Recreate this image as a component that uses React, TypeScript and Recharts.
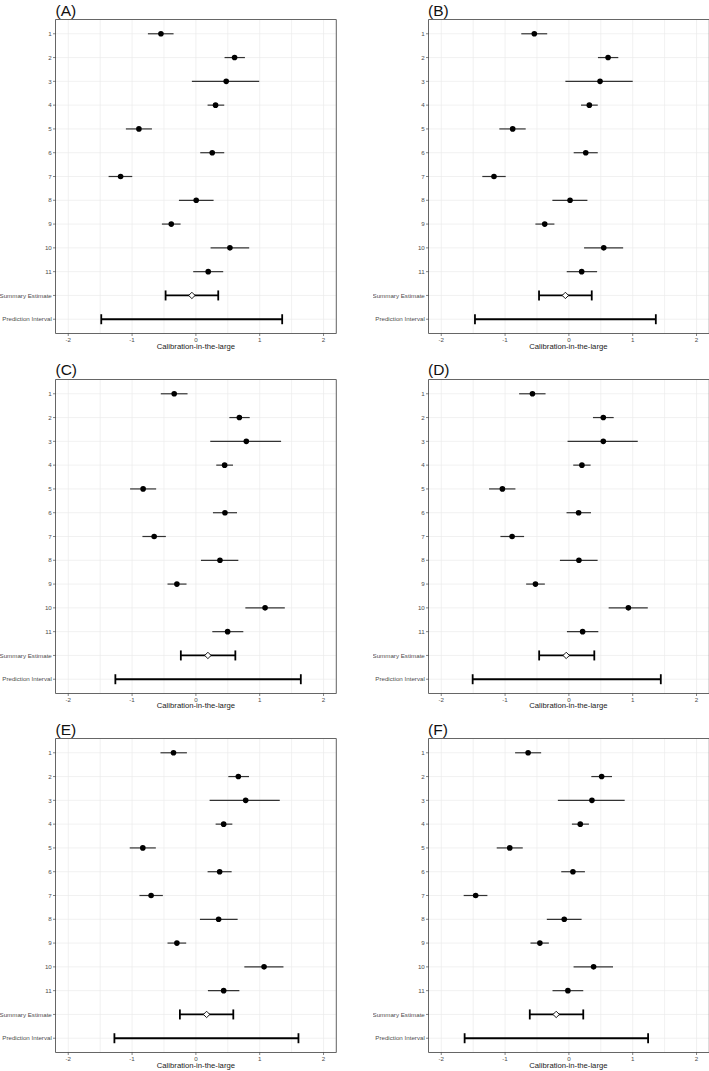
import React from 'react';
import {
  ScatterChart, Scatter, XAxis, YAxis, CartesianGrid, ErrorBar, ReferenceArea,
} from 'recharts';

// ---------- data ----------
const rowLabels = ['1', '2', '3', '4', '5', '6', '7', '8', '9', '10', '11', 'Summary Estimate', 'Prediction Interval'];
const rowIndex = [1, 2, 3, 4, 5, 6, 7, 8, 9, 10, 11, 12, 13];
const xTicks = [-2, -1.5, -1, -0.5, 0, 0.5, 1, 1.5, 2];
const xDomain = [-2.2, 2.2];
const yDomain = [0.4, 13.6];

// Panel A
const estA = [-0.548, 0.606, 0.475, 0.308, -0.893, 0.256, -1.18, 0.005, -0.386, 0.533, 0.193];
const loA = [-0.752, 0.449, -0.063, 0.183, -1.097, 0.068, -1.368, -0.266, -0.533, 0.23, -0.042];
const hiA = [-0.35, 0.768, 0.992, 0.444, -0.689, 0.444, -0.997, 0.277, -0.24, 0.835, 0.428];
const sumA = [-0.063, -0.475, 0.35];
const piA = [-1.483, 1.352];

// Panel B
const estB = [-0.542, 0.614, 0.488, 0.32, -0.881, 0.264, -1.174, 0.018, -0.379, 0.546, 0.2];
const loB = [-0.746, 0.455, -0.055, 0.19, -1.09, 0.075, -1.357, -0.259, -0.525, 0.238, -0.034];
const hiB = [-0.34, 0.774, 1.0, 0.452, -0.677, 0.452, -0.99, 0.29, -0.227, 0.85, 0.442];
const sumB = [-0.055, -0.468, 0.358];
const piB = [-1.472, 1.362];

// Panel C
const estC = [-0.34, 0.681, 0.79, 0.45, -0.827, 0.455, -0.654, 0.377, -0.298, 1.084, 0.497];
const loC = [-0.55, 0.524, 0.225, 0.319, -1.031, 0.267, -0.838, 0.079, -0.445, 0.775, 0.257];
const hiC = [-0.131, 0.843, 1.335, 0.581, -0.623, 0.644, -0.471, 0.665, -0.147, 1.393, 0.743];
const sumC = [0.188, -0.236, 0.618];
const piC = [-1.262, 1.644];

// Panel D
const estD = [-0.571, 0.539, 0.539, 0.204, -1.042, 0.152, -0.89, 0.157, -0.524, 0.932, 0.215];
const loD = [-0.78, 0.377, -0.021, 0.068, -1.251, -0.037, -1.073, -0.141, -0.67, 0.623, -0.031];
const hiD = [-0.366, 0.702, 1.079, 0.34, -0.838, 0.346, -0.702, 0.45, -0.377, 1.236, 0.461];
const sumD = [-0.042, -0.466, 0.398];
const piD = [-1.508, 1.44];

// Panel E
const estE = [-0.351, 0.665, 0.78, 0.435, -0.832, 0.372, -0.702, 0.356, -0.298, 1.068, 0.435];
const loE = [-0.555, 0.508, 0.215, 0.309, -1.037, 0.183, -0.885, 0.063, -0.445, 0.759, 0.188];
const hiE = [-0.141, 0.832, 1.314, 0.571, -0.628, 0.56, -0.518, 0.654, -0.152, 1.372, 0.681];
const sumE = [0.168, -0.251, 0.586];
const piE = [-1.277, 1.607];

// Panel F
const estF = [-0.639, 0.513, 0.361, 0.178, -0.927, 0.063, -1.461, -0.073, -0.455, 0.387, -0.016];
const loF = [-0.843, 0.351, -0.173, 0.047, -1.131, -0.12, -1.649, -0.346, -0.602, 0.073, -0.257];
const hiF = [-0.435, 0.675, 0.874, 0.314, -0.723, 0.251, -1.277, 0.199, -0.314, 0.691, 0.225];
const sumF = [-0.199, -0.613, 0.225];
const piF = [-1.634, 1.241];

const panels = [
  { title: '(A)', est: estA, lo: loA, hi: hiA, sum: sumA, pi: piA },
  { title: '(B)', est: estB, lo: loB, hi: hiB, sum: sumB, pi: piB },
  { title: '(C)', est: estC, lo: loC, hi: hiC, sum: sumC, pi: piC },
  { title: '(D)', est: estD, lo: loD, hi: hiD, sum: sumD, pi: piD },
  { title: '(E)', est: estE, lo: loE, hi: hiE, sum: sumE, pi: piE },
  { title: '(F)', est: estF, lo: loF, hi: hiF, sum: sumF, pi: piF },
];

// ---------- layout ----------
const FONT = '"Liberation Sans", Arial, Helvetica, sans-serif';
const CHART_W = 337;
const CHART_H = 359;
const Y_AXIS_W = 55.5;
const MARGIN = { top: 19.5, right: 0.7, bottom: 0, left: 0 };
const X_AXIS_H = 25.5;
const colLeft = [0, 372.5];
const rowTop = [0, 359.5, 719];

const Dot = (props: any) => {
  const { cx, cy } = props;
  if (cx == null || cy == null) return <g />;
  return <circle cx={cx} cy={cy} r={2.8} fill="#000" />;
};

const Diamond = (props: any) => {
  const { cx, cy } = props;
  if (cx == null || cy == null) return <g />;
  const r = 3.2;
  return (
    <polygon
      points={`${cx - r},${cy} ${cx},${cy - r} ${cx + r},${cy} ${cx},${cy + r}`}
      fill="#fff"
      stroke="#000"
      strokeWidth={0.9}
    />
  );
};

const Nothing = () => <g />;

const XTick = (props: any) => {
  const { x, y, payload } = props;
  const v = payload.value;
  if (!Number.isInteger(v)) return <g />;
  return (
    <g>
      <line x1={x} x2={x} y1={y - 4} y2={y - 1.5} stroke="#333" strokeWidth={0.6} />
      <text x={x} y={y} dy="0.71em" textAnchor="middle" fontSize={6.2} fill="#4d4d4d" fontFamily={FONT}>
        {String(v)}
      </text>
    </g>
  );
};

const YTick = (props: any) => {
  const { x, y, payload } = props;
  const label = rowLabels[payload.value - 1];
  return (
    <text x={x} y={y} dy="0.355em" textAnchor="end" fontSize={6.2} fill="#4d4d4d" fontFamily={FONT}>
      {label}
    </text>
  );
};

const Panel = ({ p, left, top }: any) => {
  const studies = p.est.map((x: number, i: number) => ({
    x,
    y: rowIndex[i],
    err: [x - p.lo[i], p.hi[i] - x],
  }));
  const summary = [{ x: p.sum[0], y: rowIndex[11], err: [p.sum[0] - p.sum[1], p.sum[2] - p.sum[0]] }];
  const mid = (p.pi[0] + p.pi[1]) / 2;
  const pred = [{ x: mid, y: rowIndex[12], err: [mid - p.pi[0], p.pi[1] - mid] }];
  const plotW = CHART_W - Y_AXIS_W - MARGIN.right;
  return (
    <div style={{ position: 'absolute', left, top, width: CHART_W, height: CHART_H }}>
      <div
        style={{
          position: 'absolute', left: Y_AXIS_W, top: 1.5, fontSize: 15.5, lineHeight: '17px',
          fontFamily: FONT, color: '#111',
        }}
      >
        {p.title}
      </div>
      <ScatterChart width={CHART_W} height={CHART_H} margin={MARGIN}>
        <CartesianGrid stroke="#ebebeb" strokeWidth={0.7} />
        <XAxis
          type="number"
          dataKey="x"
          domain={xDomain}
          allowDataOverflow
          ticks={xTicks}
          interval={0}
          height={X_AXIS_H}
          axisLine={false}
          tickLine={false}
          tickSize={2.5}
          tickMargin={1.5}
          tick={<XTick />}
        />
        <YAxis
          type="number"
          dataKey="y"
          domain={yDomain}
          allowDataOverflow
          reversed
          ticks={rowIndex}
          interval={0}
          width={Y_AXIS_W}
          axisLine={false}
          tickSize={2.5}
          tickMargin={1.2}
          tickLine={{ stroke: '#333', strokeWidth: 0.6 }}
          tick={<YTick />}
        />
        <ReferenceArea
          x1={xDomain[0]}
          x2={xDomain[1]}
          y1={yDomain[0]}
          y2={yDomain[1]}
          fill="none"
          stroke="#666"
          strokeWidth={1}
          ifOverflow="visible"
        />
        <Scatter data={pred} shape={<Nothing />} isAnimationActive={false}>
          <ErrorBar dataKey="err" direction="x" width={5} stroke="#000" strokeWidth={1.8} />
        </Scatter>
        <Scatter data={summary} shape={<Diamond />} isAnimationActive={false}>
          <ErrorBar dataKey="err" direction="x" width={5} stroke="#000" strokeWidth={1.8} />
        </Scatter>
        <Scatter data={studies} shape={<Dot />} isAnimationActive={false}>
          <ErrorBar dataKey="err" direction="x" width={0} stroke="#333" strokeWidth={1.2} />
        </Scatter>
      </ScatterChart>
      <div
        style={{
          position: 'absolute', left: Y_AXIS_W, width: plotW, top: 341.5, textAlign: 'center',
          fontSize: 7.7, lineHeight: '10px', fontFamily: FONT, color: '#1a1a1a',
        }}
      >
        Calibration-in-the-large
      </div>
    </div>
  );
}

export default function App() {
  return (
    <div style={{ position: 'absolute', left: 0, top: 0, width: 709, height: 1071, background: '#fff', overflow: 'hidden' }}>
      {panels.map((p, i) => (
        <Panel key={p.title} p={p} left={colLeft[i % 2]} top={rowTop[Math.floor(i / 2)]} />
      ))}
    </div>
  );
}
